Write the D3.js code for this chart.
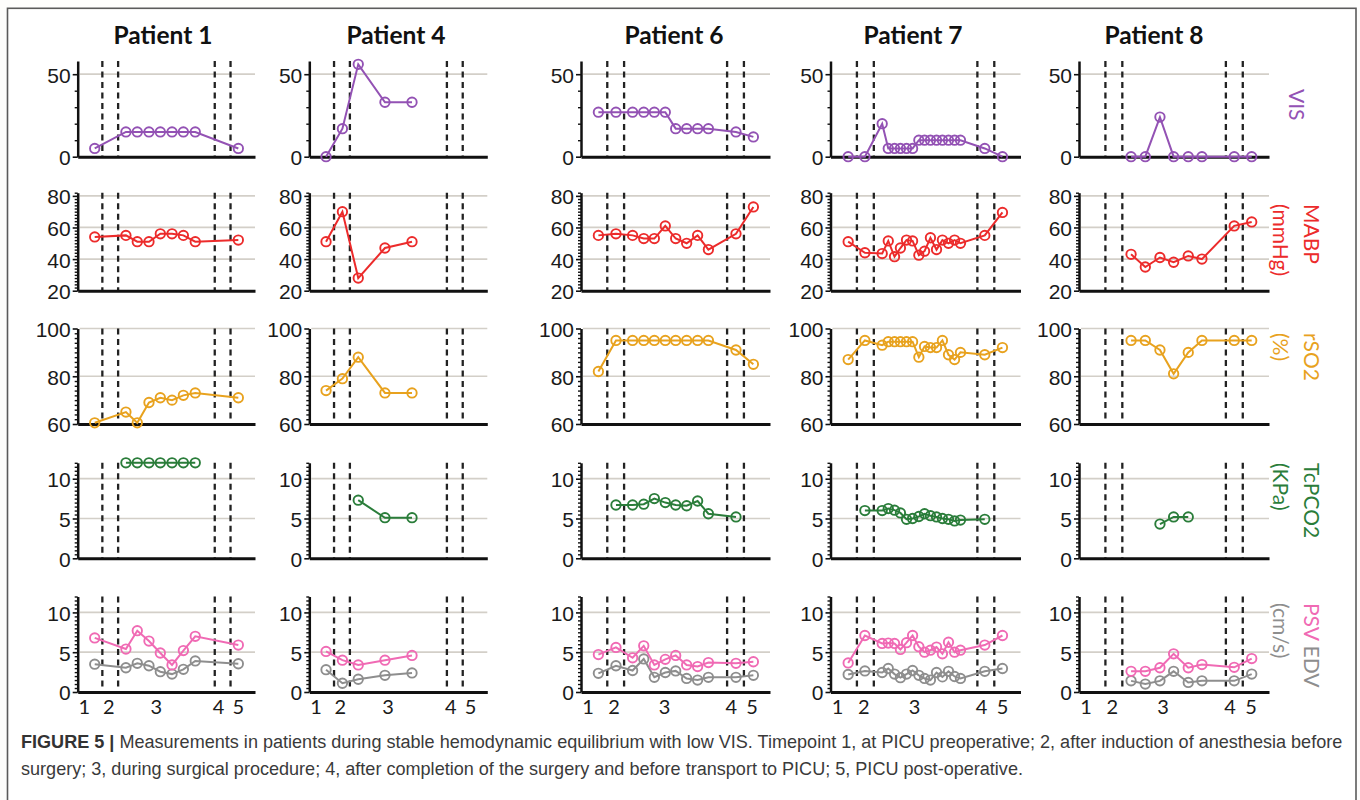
<!DOCTYPE html>
<html><head><meta charset="utf-8">
<script src="https://cdn.jsdelivr.net/npm/d3@7"></script>
<style>body{margin:0;background:#fff;}svg{display:block;}</style>
</head><body>
<svg id="chart" width="1360" height="800"></svg>
<script>
// ---------------- DATA ----------------
const patientNames = ["Patient 1", "Patient 4", "Patient 6", "Patient 7", "Patient 8"];
const xTickPos = [3.5, 17.2, 44, 79.2, 90.3];
const xTickLabels = ["1", "2", "3", "4", "5"];
const phaseBounds = [13.9, 22.8, 77.3, 86.2];

const p1Time = [9.6, 27.2, 33.6, 40.2, 46.6, 53.2, 59.6, 66.3, 90.6];
const p1VIS  = [5, 15, 15, 15, 15, 15, 15, 15, 5];
const p1MABP = [54, 55, 51, 51, 56, 56, 55, 51, 52];
const p1rSO2 = [60.5, 65, 60.5, 69, 71, 70, 72, 73, 71];
const p1TcPCO2 = [null, 12, 12, 12, 12, 12, 12, 12, null];
const p1PSV  = [6.8, 5.4, 7.7, 6.4, 4.9, 3.4, 5.2, 7.0, 5.9];
const p1EDV  = [3.5, 3.05, 3.6, 3.3, 2.55, 2.25, 2.85, 3.9, 3.55];

const p4Time = [9.4, 18.6, 27.5, 42.5, 57.7];
const p4VIS  = [0, 17, 56, 33, 33];
const p4MABP = [51, 70, 28, 47, 51];
const p4rSO2 = [74, 79, 88, 73, 73];
const p4TcPCO2 = [null, null, 7.3, 5.1, 5.1];
const p4PSV  = [5.1, 4.0, 3.4, 4.0, 4.6];
const p4EDV  = [2.8, 1.1, 1.6, 2.1, 2.4];

const p6Time = [9.2, 18.5, 27.3, 33.2, 38.8, 44.6, 50.1, 55.9, 61.7, 67.4, 82.0, 91.2];
const p6VIS  = [27, 27, 27, 27, 27, 27, 17, 17, 17, 17, 15, 12];
const p6MABP = [55, 56, 55, 53, 53, 61, 53, 50, 55, 46, 56, 73];
const p6rSO2 = [82, 95, 95, 95, 95, 95, 95, 95, 95, 95, 91, 85];
const p6TcPCO2 = [null, 6.7, 6.7, 6.8, 7.5, 7.0, 6.7, 6.6, 7.2, 5.6, 5.2, null];
const p6PSV  = [4.7, 5.6, 4.3, 5.8, 3.4, 4.1, 4.6, 3.4, 3.2, 3.7, 3.6, 3.8];
const p6EDV  = [2.35, 3.3, 2.7, 4.15, 1.85, 2.45, 2.65, 1.7, 1.5, 1.85, 1.85, 2.1];

const p7Time = [9.3, 18.1, 27.2, 30.4, 33.7, 36.8, 40.0, 43.2, 46.5, 49.5, 52.6, 55.8, 58.9, 62.1, 65.3, 68.4, 81.2, 90.5];
const p7VIS  = [0, 0, 20, 5, 5, 5, 5, 5, 10, 10, 10, 10, 10, 10, 10, 10, 5, 0];
const p7MABP = [51, 44, 43.5, 51.5, 41.5, 47, 52, 51.5, 42.5, 45, 53.5, 46, 52, 50, 52, 50, 55, 69.5];
const p7rSO2 = [87, 95, 93, 94.5, 94.5, 94.5, 94.5, 94.5, 88, 92.5, 92, 92, 95, 89, 87, 90, 89, 92];
const p7TcPCO2 = [null, 6.0, 6.0, 6.25, 6.05, 5.7, 4.9, 5.0, 5.25, 5.6, 5.35, 5.2, 5.0, 4.9, 4.7, 4.8, 4.9, null];
const p7PSV  = [3.65, 7.1, 6.1, 6.15, 6.1, 5.35, 6.2, 7.1, 5.7, 5.0, 5.25, 5.65, 4.8, 6.25, 5.0, 5.25, 5.9, 7.1];
const p7EDV  = [2.2, 2.65, 2.45, 2.95, 2.25, 1.8, 2.25, 2.7, 2.1, 1.7, 1.5, 2.45, 1.9, 2.6, 1.95, 1.7, 2.6, 2.95];

const p8Time = [27.4, 34.9, 42.6, 49.8, 57.5, 64.7, 81.7, 90.9];
const p8VIS  = [0, 0, 24, 0, 0, 0, 0, 0];
const p8MABP = [43, 35, 41, 38, 42, 40, 61, 63.5];
const p8rSO2 = [95, 95, 91, 81, 90, 95, 95, 95];
const p8TcPCO2 = [null, null, 4.3, 5.2, 5.2, null, null, null];
const p8PSV  = [2.6, 2.6, 3.05, 4.8, 3.05, 3.45, 3.1, 4.2];
const p8EDV  = [1.4, 1.0, 1.4, 2.6, 1.2, 1.4, 1.4, 2.25];

const rowDomains = [[0, 58], [20, 82], [60, 100], [0, 12], [0, 12]];
const rowMajorTicks = [[0, 50], [20, 40, 60, 80], [60, 80, 100], [0, 5, 10], [0, 5, 10]];
const rowGridTicks = [[50], [40, 60, 80], [80, 100], [5, 10], [5, 10]];
const rowMinorStep = [10, 2, 2, 0.5, 0.5];

const captionBold = "FIGURE 5 |";
const captionLine1 = " Measurements in patients during stable hemodynamic equilibrium with low VIS. Timepoint 1, at PICU preoperative; 2, after induction of anesthesia before";
const captionLine2 = "surgery; 3, during surgical procedure; 4, after completion of the surgery and before transport to PICU; 5, PICU post-operative.";

// ---------------- BUILD TABLE ----------------
const patients = [
  {time: p1Time, VIS: p1VIS, MABP: p1MABP, rSO2: p1rSO2, TcPCO2: p1TcPCO2, PSV: p1PSV, EDV: p1EDV},
  {time: p4Time, VIS: p4VIS, MABP: p4MABP, rSO2: p4rSO2, TcPCO2: p4TcPCO2, PSV: p4PSV, EDV: p4EDV},
  {time: p6Time, VIS: p6VIS, MABP: p6MABP, rSO2: p6rSO2, TcPCO2: p6TcPCO2, PSV: p6PSV, EDV: p6EDV},
  {time: p7Time, VIS: p7VIS, MABP: p7MABP, rSO2: p7rSO2, TcPCO2: p7TcPCO2, PSV: p7PSV, EDV: p7EDV},
  {time: p8Time, VIS: p8VIS, MABP: p8MABP, rSO2: p8rSO2, TcPCO2: p8TcPCO2, PSV: p8PSV, EDV: p8EDV}
];
const rowSeries = [["VIS"], ["MABP"], ["rSO2"], ["TcPCO2"], ["EDV", "PSV"]];

// ---------------- STYLE / LAYOUT ----------------
const colors = {VIS: "#9352b4", MABP: "#ec2b2b", rSO2: "#e8a21e", TcPCO2: "#2a7d3a", PSV: "#f06ab4", EDV: "#8e8e8e"};
const colLayout = [
  {x0: 77.7, w: 177.3, tx: 163},
  {x0: 309.3, w: 178, tx: 396},
  {x0: 581, w: 189, tx: 674},
  {x0: 830.5, w: 190, tx: 913},
  {x0: 1079, w: 190, tx: 1154}
];
const rowLayout = [
  {top: 61, bottom: 156.7},
  {top: 192.7, bottom: 290.7},
  {top: 328.5, bottom: 424},
  {top: 462.8, bottom: 558.3},
  {top: 596.5, bottom: 692}
];
const gridColor = "#d3cfc8";
const numFont = "'Liberation Sans', Arial, sans-serif";
const labFont = "Lato, 'Open Sans', sans-serif";

const svg = d3.select("#chart");
svg.append("rect").attr("x", 0).attr("y", 0).attr("width", 1360).attr("height", 800).attr("fill", "#fdfdfc");
svg.append("rect").attr("x", 7.5).attr("y", 8.3).attr("width", 1348.5).attr("height", 800)
  .attr("fill", "#ffffff").attr("stroke", "#5a5a5a").attr("stroke-width", 1.6);

function fitFont(sel, target, base) {
  const len = sel.node().getComputedTextLength();
  return base * target / len;
}

// titles
const titles = svg.selectAll("text.title").data(patientNames).join("text")
  .attr("class", "title")
  .attr("x", (d, i) => colLayout[i].tx).attr("y", 43.5)
  .attr("text-anchor", "middle")
  .attr("font-family", labFont).attr("font-weight", 700).attr("font-size", 24)
  .attr("fill", "#111").text(d => d);
const tSize = fitFont(titles.filter((d, i) => i === 0), 99, 24);
titles.attr("font-size", tSize);

patients.forEach((p, ci) => {
  const cl = colLayout[ci];
  const x = d3.scaleLinear().domain([0, 100]).range([cl.x0, cl.x0 + cl.w]);
  rowLayout.forEach((rl, ri) => {
    const dom = rowDomains[ri];
    const y = d3.scaleLinear().domain(dom).range([rl.bottom, rl.top]);
    const g = svg.append("g");
    // grid
    g.selectAll("line.grid").data(rowGridTicks[ri]).join("line")
      .attr("x1", x(0) + 2).attr("x2", x(100)).attr("y1", d => y(d)).attr("y2", d => y(d))
      .attr("stroke", gridColor).attr("stroke-width", 1.7);
    // phase boundaries
    g.selectAll("line.phase").data(phaseBounds).join("line")
      .attr("x1", d => x(d)).attr("x2", d => x(d)).attr("y1", rl.top).attr("y2", rl.bottom)
      .attr("stroke", "#222").attr("stroke-width", 2.3).attr("stroke-dasharray", "6,4.5");
    // minor ticks
    const minors = d3.range(dom[0], dom[1] + 1e-9, rowMinorStep[ri])
      .filter(v => !rowMajorTicks[ri].some(m => Math.abs(m - v) < 1e-6));
    const minorAxis = d3.axisLeft(y).tickValues(minors).tickSize(3).tickSizeOuter(0).tickFormat("");
    g.append("g").attr("transform", `translate(${x(0)},0)`).call(minorAxis)
      .call(s => s.select(".domain").remove())
      .call(s => s.selectAll(".tick line").attr("stroke", "#111").attr("stroke-width", 1.4));
    // major y axis
    const yAxis = d3.axisLeft(y).tickValues(rowMajorTicks[ri]).tickSize(5).tickSizeOuter(0).tickPadding(2);
    g.append("g").attr("transform", `translate(${x(0)},0)`).call(yAxis)
      .call(s => s.select(".domain").attr("stroke", "#111").attr("stroke-width", 2.5))
      .call(s => s.selectAll(".tick line").attr("stroke", "#111").attr("stroke-width", 1.6))
      .call(s => s.selectAll(".tick text").attr("font-family", numFont).attr("font-size", 21)
        .attr("fill", "#1a1a1a").attr("dy", "0.38em"));
    // x axis
    const xAxis = d3.axisBottom(x).tickValues(ri === 4 ? xTickPos : []).tickSize(0).tickSizeOuter(0)
      .tickFormat((d, i) => xTickLabels[i]).tickPadding(4);
    g.append("g").attr("transform", `translate(0,${y(dom[0])})`).call(xAxis)
      .call(s => s.select(".domain").attr("stroke", "#111").attr("stroke-width", 3))
      .call(s => s.selectAll(".tick text").attr("font-family", labFont).attr("font-size", 20)
        .attr("fill", "#1a1a1a").attr("dy", "0.92em"));
    // data
    rowSeries[ri].forEach(key => {
      const pts = p.time.map((t, i) => ({t: t, v: p[key][i]}));
      const line = d3.line().defined(d => d.v != null).x(d => x(d.t)).y(d => y(d.v));
      g.append("path").datum(pts).attr("d", line).attr("fill", "none")
        .attr("stroke", colors[key]).attr("stroke-width", 2);
      g.selectAll("circle." + key).data(pts.filter(d => d.v != null)).join("circle")
        .attr("class", key).attr("cx", d => x(d.t)).attr("cy", d => y(d.v)).attr("r", 4.7)
        .attr("fill", "none").attr("stroke", colors[key]).attr("stroke-width", 1.9);
    });
  });
});

// right-side measure labels (rotated)
const sideLabels = [
  {lines: [[{t: "VIS", c: colors.VIS}]], y: 89, xs: [1298]},
  {lines: [[{t: "MABP", c: colors.MABP}], [{t: "(mmHg)", c: colors.MABP}]], y: 204, xs: [1313, 1282]},
  {lines: [[{t: "rSO2", c: colors.rSO2}], [{t: "(%)", c: colors.rSO2}]], y: 333, xs: [1313, 1282]},
  {lines: [[{t: "TcPCO2", c: colors.TcPCO2}], [{t: "(KPa)", c: colors.TcPCO2}]], y: 463, xs: [1313, 1282]},
  {lines: [[{t: "PSV", c: colors.PSV}, {t: " EDV", c: colors.EDV}], [{t: "(cm/s)", c: colors.EDV}]], y: 603, xs: [1313, 1282]}
];
const sideTexts = [];
sideLabels.forEach(sl => {
  sl.lines.forEach((ln, li) => {
    const t = svg.append("text")
      .attr("transform", `translate(${sl.xs[li]},${sl.y}) rotate(90)`)
      .attr("text-anchor", "start").attr("dominant-baseline", "central")
      .attr("font-family", labFont).attr("font-size", 24);
    ln.forEach(part => t.append("tspan").attr("fill", part.c).text(part.t));
    sideTexts.push(t);
  });
});
const sSize = fitFont(sideTexts[1], 60, 24);
sideTexts.forEach(t => t.attr("font-size", sSize));

// caption
const cap1 = svg.append("text").attr("x", 21).attr("y", 747.5)
  .attr("font-family", numFont).attr("font-size", 16).attr("fill", "#3a3a3a");
cap1.append("tspan").attr("font-weight", 700).attr("fill", "#333").text(captionBold);
cap1.append("tspan").text(captionLine1);
const cSize = fitFont(cap1, 1322, 16);
cap1.attr("font-size", cSize);
svg.append("text").attr("x", 21).attr("y", 774.5)
  .attr("font-family", numFont).attr("font-size", cSize).attr("fill", "#3a3a3a").text(captionLine2);
</script>
</body></html>
